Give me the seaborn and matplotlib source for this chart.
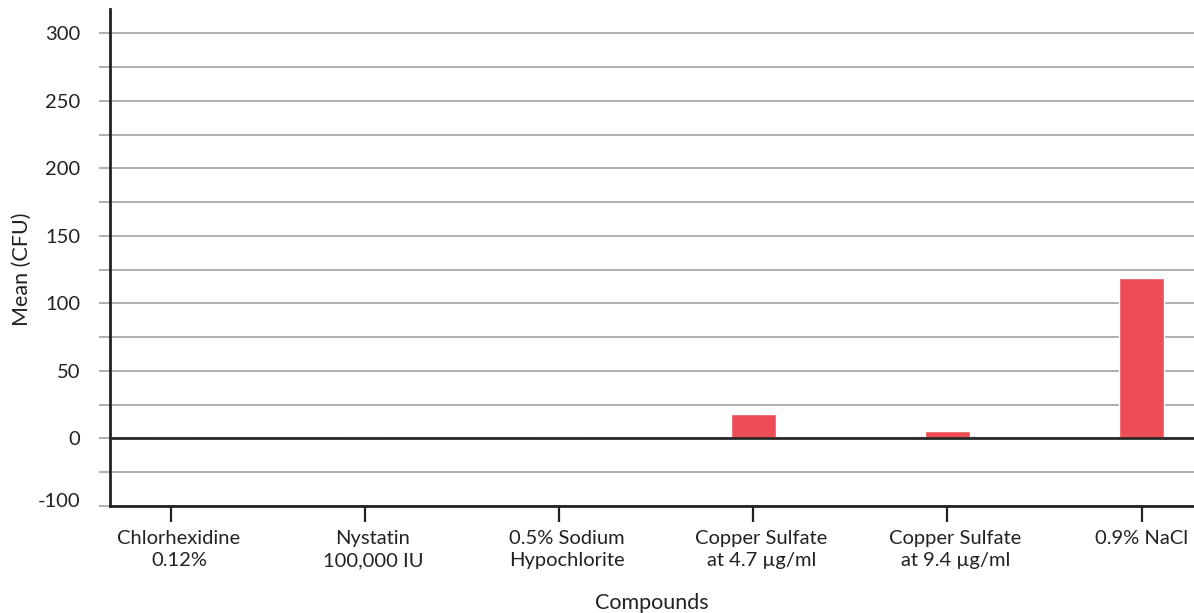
import matplotlib
import matplotlib.pyplot as plt
import matplotlib.transforms as mtransforms
import pandas as pd
import seaborn as sns

matplotlib.use("Agg")

compounds = [
    'Chlorhexidine\n0.12%',
    'Nystatin\n100,000 IU',
    '0.5% Sodium\nHypochlorite',
    'Copper Sulfate\nat 4.7 \u00b5g/ml',
    'Copper Sulfate\nat 9.4 \u00b5g/ml',
    '0.9% NaCl',
]
mean_cfu = [0, 0, 0, 18, 5.5, 118.5]

y_ticks = [-50, -25, 0, 25, 50, 75, 100, 125, 150, 175, 200, 225, 250, 275, 300]
y_labels = ['-100', '', '0', '', '50', '', '100', '', '150', '', '200', '', '250', '', '300']

sns.set_style('white')
plt.rcParams['font.family'] = ['Lato', 'DejaVu Sans']

df = pd.DataFrame({'compound': compounds, 'mean': mean_cfu})

fig = plt.figure(figsize=(11.94, 6.13), dpi=100)
ax = fig.add_axes([0.0921, 0.1746, 0.9079, 0.8107])

ax.set_axisbelow(True)
ax.set_yticks(y_ticks, y_labels)
ax.yaxis.grid(True, color='#9a9a9a', linewidth=1.1)
ax.axhline(0, color='#2a2a2a', linewidth=2, zorder=3)

sns.barplot(data=df, x='compound', y='mean', color='#ef4d55', width=0.23,
            saturation=1, ax=ax, zorder=2)

ax.set_ylim(-50, 318)
ax.set_xlim(-0.314, 5.27)

for side in ['top', 'right']:
    ax.spines[side].set_visible(False)
for side in ['left', 'bottom']:
    ax.spines[side].set_color('#222222')
    ax.spines[side].set_linewidth(2)

ax.tick_params(axis='y', length=8, width=1.1, color='#9a9a9a', pad=13.5,
               labelsize=14.5, labelcolor='#222222', left=True)
ax.tick_params(axis='x', length=11.5, width=1.6, color='#222222', pad=6,
               labelsize=14.5, labelcolor='#222222', bottom=True)

# labels in the source sit a little right of their ticks (except the last)
shift_x = mtransforms.ScaledTranslation(8 / 100, 0, fig.dpi_scale_trans)
for lbl in ax.get_xticklabels()[:-1]:
    lbl.set_transform(lbl.get_transform() + shift_x)
for lbl in ax.get_xticklabels():
    lbl.set_linespacing(1.35)
shift_y = mtransforms.ScaledTranslation(0, 6 / 100, fig.dpi_scale_trans)
bottom_lbl = ax.get_yticklabels()[0]
bottom_lbl.set_transform(bottom_lbl.get_transform() + shift_y)

ax.set_xlabel('Compounds', fontsize=15.5, color='#222222', labelpad=17)
ax.set_ylabel('Mean (CFU)', fontsize=15.5, color='#222222')
ax.yaxis.set_label_coords(-0.072, 0.477)

plt.savefig('out.png', dpi=100)
